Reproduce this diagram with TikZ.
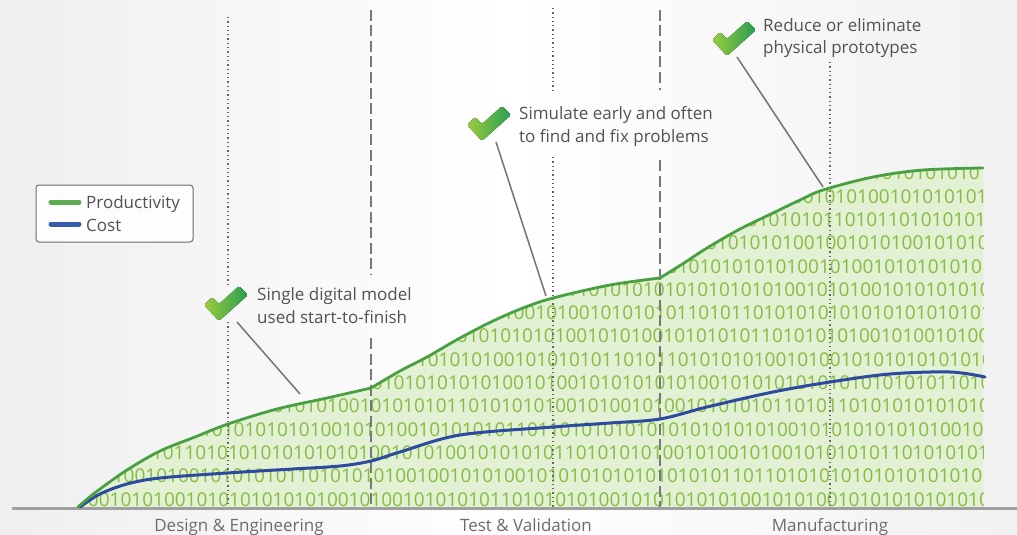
\documentclass[tikz,border=0pt]{standalone}
\usepackage{fontspec}
\setmainfont{Open Sans}
\definecolor{prodline}{RGB}{72,160,66}
\definecolor{prodleg}{RGB}{92,172,82}
\definecolor{prodfill}{RGB}{226,240,211}
\definecolor{digit}{RGB}{134,188,64}
\definecolor{costline}{RGB}{44,74,160}
\definecolor{costleg}{RGB}{54,92,170}
\definecolor{txt}{RGB}{82,82,82}
\definecolor{guide}{RGB}{120,120,120}
\definecolor{chkA}{RGB}{156,204,62}
\definecolor{chkB}{RGB}{38,158,82}
\tikzset{
  lbl/.style={font=\fontsize{17}{20}\selectfont, text=txt, inner sep=0pt, anchor=base west},
  axislbl/.style={font=\fontsize{17}{20}\selectfont, text=txt!85, inner sep=0pt, anchor=base},
  dotline/.style={draw=guide!85!black, line width=1.5pt, dash pattern=on 1.3pt off 3pt},
  dashline/.style={draw=guide, line width=2.2pt, dash pattern=on 11pt off 4.5pt},
  callout/.style={draw=gray!90!black, line width=1.5pt},
  digits/.style={font=\fontsize{19}{19}\selectfont, text=digit, inner sep=0pt, anchor=base west},
  chk/.pic={\fill[left color=chkA, right color=chkB, rounded corners=1.5pt]
     (-1,18) -- (7,10) -- (14,17) -- (34,-1) -- (43,8) -- (14,34) -- cycle;},
}
\def\binA{0101010101}
\def\binB{1010101010}
\def\binC{0100101010}
\def\binD{1010110101}
\def\binE{0101001010}
\def\binF{1011010101}
\def\prodcurve{plot[smooth,tension=0.55] coordinates {(78,507) (96,492) (127,470) (160,451) (195,437) (228,424) (277,409) (327,398) (371,388)}
 -- plot[smooth,tension=0.55] coordinates {(371,388) (400,371) (427,357) (460,338) (493,321) (523,308) (553,298) (610,285) (660,278)}
 -- plot[smooth,tension=0.55] coordinates {(660,278) (684,263) (707,248) (740,229) (773,213) (800,200) (823,190) (873,177) (923,170) (983,168)}}
\begin{document}
\begin{tikzpicture}[x=1pt,y=-1pt]
\useasboundingbox (0,0) rectangle (1017,535);
\shade[left color=gray!13, right color=gray!11, middle color=white] (0,0) rectangle (1017,535);

% filled area with binary digits
\begin{scope}
  \clip \prodcurve -- (983,508) -- (78,508) -- cycle;
  \fill[prodfill] (70,150) rectangle (990,510);
  \foreach \sx/\r [count=\k from 0] in {%
    66/\binC\binA\binE\binA\binB\binA\binC\binA010101,
    80/\binE\binA\binB\binC\binA\binA\binF\binA01010,
    130/\binD\binA\binC\binA\binB\binE\binA\binB,
    190/\binA\binC\binA\binF\binA\binE\binB01010,
    240/\binC\binA\binB\binE\binA\binD\binA,
    350/\binA\binE\binA\binC\binB\binD,
    395/\binB\binA\binD\binE\binA010101,
    435/\binA\binC\binA\binB\binE01,
    470/\binE\binA\binD\binA010101010,
    545/\binF\binA\binC\binA01,
    645/\binA\binE\binA010,
    695/\binB\binC01010101,
    725/\binA\binD01010,
    770/\binC\binA1,
    860/010101010101}
  { \node[digits] (row\k) at (\sx,{506-23.3*\k}) {\r}; }
\end{scope}

% vertical guide lines
\draw[dotline] (228,17) -- (228,285);
\draw[dotline] (228,322) -- (228,508);
\draw[dashline] (371,10) -- (371,275);
\draw[dashline] (371,338) -- (371,508);
\draw[dotline] (553,8) -- (553,92);
\draw[dotline] (553,157) -- (553,508);
\draw[dashline] (660,10) -- (660,90);
\draw[dashline] (660,160) -- (660,508);
\draw[dotline] (830,62) -- (830,508);

% baseline
\draw[draw=gray!75, line width=3pt] (12,508) -- (1017,508);

% curves
\draw[costline, line width=3pt, line cap=round] plot[smooth,tension=0.55] coordinates {(80,507) (100,494) (127,484) (160,478) (227,473) (293,469) (340,466) (371,461) (400,452) (460,435) (553,427) (610,423) (660,419) (707,407) (773,392) (830,382) (890,374) (950,372) (985,377)};
\draw[prodline, line width=2.8pt, line cap=round] \prodcurve;

% legend
\node[draw=gray!85!black, line width=1pt, rounded corners=3pt, fill=white!70!gray!6, minimum width=157pt, minimum height=57pt, inner sep=0pt] (legend) at (114.5,213.5) {};
\coordinate (lg1) at (51,202);
\coordinate (lg2) at (79,202);
\coordinate (lb1) at (51,224);
\coordinate (lb2) at (79,224);
\draw[prodleg, line width=5pt, line cap=round] (lg1) -- (lg2);
\draw[costleg, line width=5pt, line cap=round] (lb1) -- (lb2);
\node[lbl] (lprod) at (86,208) {Productivity};
\node[lbl] (lcost) at (86,231) {Cost};

% callouts
\pic (chk1) at (205,287) {chk};
\pic (chk2) at (468,107) {chk};
\pic (chk3) at (713,22) {chk};
\coordinate (c1s) at (237,322);
\coordinate (c1e) at (300,394);
\coordinate (c2s) at (496,142);
\coordinate (c2e) at (546,296);
\coordinate (c3s) at (737,57);
\coordinate (c3e) at (823,187);
\draw[callout] (c1s) -- (c1e);
\draw[callout] (c2s) -- (c2e);
\draw[callout] (c3s) -- (c3e);

\node[lbl] (t1a) at (257,300) {Single digital model};
\node[lbl] (t1b) at (257,323) {used start-to-finish};
\node[lbl] (t2a) at (519,119) {Simulate early and often};
\node[lbl] (t2b) at (519,142) {to find and fix problems};
\node[lbl] (t3a) at (763,32) {Reduce or eliminate};
\node[lbl] (t3b) at (763,54) {physical prototypes};

% phase labels
\node[axislbl] (p1) at (239,531) {Design \& Engineering};
\node[axislbl] (p2) at (526,531) {Test \& Validation};
\node[axislbl] (p3) at (830,531) {Manufacturing};
\end{tikzpicture}
\end{document}
